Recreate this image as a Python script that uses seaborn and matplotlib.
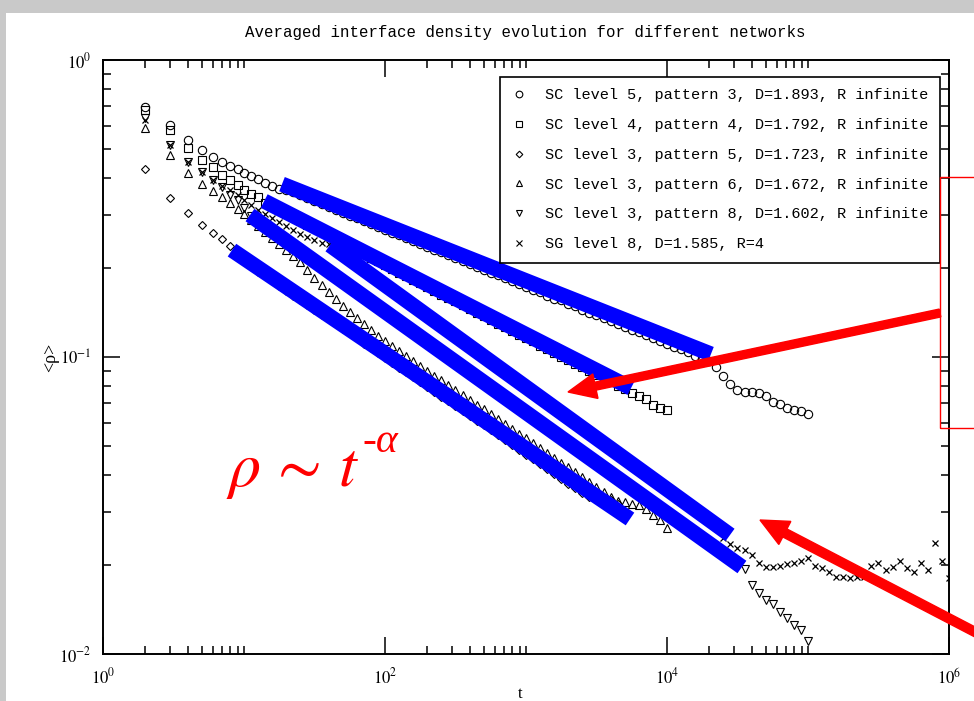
import matplotlib
matplotlib.use("Agg")
import matplotlib.pyplot as plt
import seaborn as sns
from matplotlib.lines import Line2D
from matplotlib.patches import Rectangle, FancyArrow
from matplotlib.transforms import IdentityTransform
from matplotlib.ticker import FixedLocator, FixedFormatter, NullFormatter

# ---------------- data ----------------
t_grid = [2, 3, 4, 5, 6, 7, 8, 9,
          10, 11.2, 12.6, 14.1, 15.8, 17.8, 20, 22.4, 25.1, 28.2, 31.6, 35.5, 39.8, 44.7, 50.1, 56.2, 63.1, 70.8, 79.4, 89.1,
          100, 112, 126, 141, 158, 178, 200, 224, 251, 282, 316, 355, 398, 447, 501, 562, 631, 708, 794, 891,
          1000, 1122, 1259, 1413, 1585, 1778, 1995, 2239, 2512, 2818, 3162, 3548, 3981, 4467, 5012, 5623, 6310, 7079, 7943, 8913,
          10000, 11220, 12590, 14130, 15850, 17780, 19950, 22390, 25120, 28180, 31620, 35480, 39810, 44670, 50120, 56230, 63100, 70790, 79430, 89130,
          100000, 112200, 125900, 141300, 158500, 177800, 199500, 223900, 251200, 281800, 316200, 354800, 398100, 446700, 501200, 562300, 631000, 707900, 794300, 891300,
          1000000]

rho_sc5_p3 = [0.696, 0.605, 0.539, 0.499, 0.471, 0.452, 0.439, 0.429,
              0.417, 0.406, 0.396, 0.386, 0.377, 0.368,
              0.365, 0.358, 0.350, 0.342, 0.334, 0.328, 0.320, 0.313, 0.306, 0.299,
              0.293, 0.287, 0.280, 0.274, 0.268, 0.262, 0.257, 0.251, 0.245, 0.240,
              0.235, 0.229, 0.225, 0.220, 0.215, 0.210, 0.206, 0.201, 0.196, 0.192,
              0.189, 0.184, 0.180, 0.176, 0.172, 0.168, 0.165, 0.161, 0.157, 0.155,
              0.151, 0.148, 0.144, 0.141, 0.138, 0.135, 0.132, 0.129, 0.126, 0.123,
              0.121, 0.119, 0.116, 0.113, 0.111, 0.108, 0.106, 0.104, 0.101, 0.0991,
              0.0970,
              0.0928, 0.0866, 0.0809, 0.0772, 0.0763, 0.0760, 0.0754, 0.0741, 0.0704, 0.0696,
              0.0676, 0.0665, 0.0657, 0.0643]

rho_sc4_p4 = [0.680, 0.581, 0.506, 0.461, 0.437, 0.411, 0.395, 0.378,
              0.365, 0.355, 0.346,
              0.330, 0.321, 0.312, 0.303, 0.295, 0.287, 0.279, 0.271, 0.263, 0.256,
              0.249, 0.242, 0.235, 0.228, 0.222, 0.216, 0.210, 0.204, 0.198, 0.192,
              0.188, 0.182, 0.177, 0.172, 0.167, 0.162, 0.158, 0.154, 0.150, 0.145,
              0.141, 0.137, 0.133, 0.129, 0.126, 0.122, 0.119, 0.116, 0.113, 0.109,
              0.106, 0.103, 0.100, 0.0977, 0.0950, 0.0923, 0.0897, 0.0872, 0.0848, 0.0824,
              0.0801, 0.0779, 0.0757,
              0.0741, 0.0720, 0.0691, 0.0673, 0.0662]

rho_sc3_p5 = [0.428, 0.343, 0.305, 0.278, 0.261, 0.250, 0.236, 0.225,
              0.214,
              0.202, 0.194, 0.188, 0.181, 0.174, 0.167, 0.161, 0.156, 0.150, 0.144,
              0.139, 0.134, 0.129, 0.124, 0.120, 0.116, 0.111, 0.107, 0.103, 0.0991,
              0.0957, 0.0920, 0.0887, 0.0854, 0.0823, 0.0792, 0.0764, 0.0736, 0.0709, 0.0682,
              0.0657, 0.0633, 0.0610, 0.0588, 0.0566, 0.0545, 0.0525, 0.0506, 0.0487, 0.0469,
              0.0452, 0.0435, 0.0420, 0.0404, 0.0389, 0.0375, 0.0362, 0.0348,
              0.0339, 0.0337, 0.0331, 0.0330, 0.0321]

rho_sc3_p6 = [0.591, 0.479, 0.417, 0.383, 0.363, 0.346, 0.330, 0.315,
              0.303, 0.290, 0.276, 0.263, 0.252, 0.240, 0.229, 0.219, 0.209,
              0.196, 0.185, 0.175, 0.166, 0.157, 0.149, 0.142, 0.135, 0.129, 0.123,
              0.118, 0.113, 0.109, 0.105, 0.101, 0.0969,
              0.0932, 0.0898, 0.0865, 0.0834, 0.0803, 0.0774, 0.0746, 0.0717, 0.0691, 0.0666,
              0.0642, 0.0618, 0.0595, 0.0573, 0.0552, 0.0532, 0.0512, 0.0494, 0.0475, 0.0458,
              0.0441, 0.0425, 0.0409, 0.0395, 0.0380, 0.0365, 0.0352, 0.0339, 0.0327,
              0.0324, 0.0321, 0.0317, 0.0307, 0.0293, 0.0282, 0.0266]

rho_sc3_p8 = [0.640, 0.518, 0.454, 0.421, 0.395, 0.374, 0.351, 0.338,
              0.317,
              0.299, 0.288, 0.277, 0.266, 0.256, 0.246, 0.237, 0.228, 0.219, 0.210,
              0.202, 0.195, 0.187, 0.180, 0.173, 0.166, 0.160, 0.154, 0.148, 0.142,
              0.137, 0.132, 0.127, 0.122, 0.117, 0.113, 0.108, 0.104, 0.100, 0.0963,
              0.0926, 0.0891, 0.0856, 0.0824, 0.0792, 0.0762, 0.0732, 0.0704, 0.0677, 0.0651,
              0.0626, 0.0602, 0.0579, 0.0557, 0.0536, 0.0515, 0.0495, 0.0476, 0.0458, 0.0441,
              0.0424, 0.0407, 0.0392, 0.0377, 0.0362, 0.0348, 0.0335, 0.0322, 0.0310, 0.0298,
              0.0287, 0.0276, 0.0265, 0.0255, 0.0245, 0.0236, 0.0227, 0.0218, 0.0210, 0.0202,
              0.0194,
              0.0171, 0.0160, 0.0152, 0.0147, 0.0138, 0.0132, 0.0125, 0.0120, 0.0111]

rho_sg8 = [0.628, 0.517, 0.454, 0.420, 0.394, 0.377, 0.365, 0.351,
           0.338, 0.325, 0.313, 0.303, 0.294, 0.285, 0.276, 0.268, 0.259, 0.254,
           0.248, 0.242, 0.240,
           0.231, 0.222, 0.213, 0.205, 0.197, 0.189, 0.182, 0.175, 0.168, 0.162,
           0.155, 0.149, 0.144, 0.138, 0.133, 0.127, 0.122, 0.118, 0.113, 0.109,
           0.105, 0.1005, 0.0966, 0.0928, 0.0892, 0.0858, 0.0824, 0.0792, 0.0762, 0.0732,
           0.0704, 0.0676, 0.0650, 0.0625, 0.0601, 0.0577, 0.0555, 0.0533, 0.0513, 0.0493,
           0.0474, 0.0455, 0.0437, 0.0420, 0.0404, 0.0388, 0.0373, 0.0359, 0.0345, 0.0332,
           0.0319, 0.0306, 0.0294, 0.0283, 0.0272,
           0.0245, 0.0235, 0.0227, 0.0224, 0.0215, 0.0203, 0.0197, 0.0196, 0.0198, 0.0201,
           0.0203, 0.0206, 0.0211, 0.0198, 0.0195, 0.0189, 0.0181, 0.0181, 0.0180, 0.0181,
           0.0181, 0.0198, 0.0203, 0.0192, 0.0197, 0.0206, 0.0195, 0.0189, 0.0203, 0.0192,
           0.0237, 0.0206, 0.0180]

series_labels = ["SC level 5, pattern 3, D=1.893, R infinite",
                 "SC level 4, pattern 4, D=1.792, R infinite",
                 "SC level 3, pattern 5, D=1.723, R infinite",
                 "SC level 3, pattern 6, D=1.672, R infinite",
                 "SC level 3, pattern 8, D=1.602, R infinite",
                 "SG level 8, D=1.585, R=4"]

# power-law guide segments (start / end points)
guide_t0 = [18.6, 13.9, 40.7, 11.03, 8.22]
guide_t1 = [20500, 5560, 28000, 34000, 5465]
guide_r0 = [0.382, 0.335, 0.238, 0.3006, 0.229]
guide_r1 = [0.1023, 0.0786, 0.02517, 0.01963, 0.02848]

x_major = [1, 1e2, 1e4, 1e6]
x_major_labels = [r"$10^{0}$", r"$10^{2}$", r"$10^{4}$", r"$10^{6}$"]
x_minor = [2, 3, 4, 5, 6, 7, 8, 9, 10,
           200, 300, 400, 500, 600, 700, 800, 900, 1000,
           2e4, 3e4, 4e4, 5e4, 6e4, 7e4, 8e4, 9e4, 1e5]
y_major = [0.01, 0.1, 1]
y_major_labels = [r"$10^{-2}$", r"$10^{-1}$", r"$10^{0}$"]
y_minor = [0.02, 0.03, 0.04, 0.05, 0.06, 0.07, 0.08, 0.09,
           0.2, 0.3, 0.4, 0.5, 0.6, 0.7, 0.8, 0.9]

title_text = "Averaged interface density evolution for different networks"
law_main = r"$\rho\,\sim\,t$"
law_exp = "-\u03b1"

# ---------------- figure ----------------
plt.rcParams["mathtext.fontset"] = "stix"
plt.rcParams["font.family"] = ["Liberation Serif", "DejaVu Sans"]

W, H = 974, 701
fig = plt.figure(figsize=(W / 100, H / 100), dpi=100)
fig.patch.set_facecolor("#c9c9c9")
fig.add_artist(Rectangle((6 / W, 0), 1, 1 - 13 / H, transform=fig.transFigure,
                         facecolor="white", edgecolor="none", zorder=-1))

ax = fig.add_axes([103 / W, 47 / H, 846 / W, 594 / H])
ax.set_facecolor("white")
ax.set_xscale("log")
ax.set_yscale("log")

series = [rho_sc5_p3, rho_sc4_p4, rho_sc3_p5, rho_sc3_p6, rho_sc3_p8, rho_sg8]
markers = ["o", "s", "D", "^", "v", "x"]
msizes = [6.0, 5.6, 4.2, 6.2, 6.2, 5.0]

for rho, m, ms in zip(series, markers, msizes):
    t = t_grid[:len(rho)]
    if m == "x":
        sns.lineplot(x=t, y=rho, ax=ax, marker=m, linestyle="", color="black",
                     ms=ms, mew=0.9, mec="black", zorder=2)
    else:
        sns.lineplot(x=t, y=rho, ax=ax, marker=m, linestyle="", color="black",
                     ms=ms, mew=0.8, mec="black", mfc="none", zorder=2)

for a0, a1, b0, b1 in zip(guide_t0, guide_t1, guide_r0, guide_r1):
    sns.lineplot(x=[a0, a1], y=[b0, b1], ax=ax, color="#0000ff", lw=11,
                 solid_capstyle="butt", zorder=3)

ax.set_xlim(1, 1e6)
ax.set_ylim(0.01, 1)

ax.xaxis.set_major_locator(FixedLocator(x_major))
ax.xaxis.set_major_formatter(FixedFormatter(x_major_labels))
ax.xaxis.set_minor_locator(FixedLocator(x_minor))
ax.xaxis.set_minor_formatter(NullFormatter())
ax.yaxis.set_major_locator(FixedLocator(y_major))
ax.yaxis.set_major_formatter(FixedFormatter(y_major_labels))
ax.yaxis.set_minor_locator(FixedLocator(y_minor))
ax.yaxis.set_minor_formatter(NullFormatter())

ax.tick_params(which="both", direction="in", top=True, right=True, width=1.1, colors="black")
ax.tick_params(which="major", length=12, labelsize=12)
ax.tick_params(which="minor", length=6)
ax.tick_params(axis="x", which="major", pad=10)
ax.tick_params(axis="y", which="major", pad=8)
for sp in ax.spines.values():
    sp.set_linewidth(1.4)
    sp.set_color("black")

ax.set_ylabel("<\u03c1>", fontsize=13)
ax.yaxis.set_label_coords(-0.052, 0.5)
ax.set_xlabel("t", fontsize=12)
ax.xaxis.set_label_coords(0.493, -0.054)

handles = [Line2D([], [], marker=m, linestyle="none", color="black", mfc="none" if m != "x" else "black",
                  mec="black", mew=0.8, ms=ms * 0.8) for m, ms in zip(markers, msizes)]
leg = ax.legend(handles, series_labels, loc="upper right",
                bbox_to_anchor=(940 / W, 1 - 77 / H), bbox_transform=fig.transFigure,
                prop={"family": "Liberation Mono", "size": 11},
                frameon=True, fancybox=False, edgecolor="black", framealpha=1,
                borderpad=0.75, labelspacing=1.03, handlelength=1.0, handletextpad=1.2,
                borderaxespad=0)
leg.get_frame().set_linewidth(1.2)
leg.set_zorder(6)

fig.text(525 / W, 1 - 32 / H, title_text, ha="center", va="center",
         family="Liberation Mono", fontsize=11.3, color="black")

# red annotations
fig.text(226 / W, 1 - 486 / H, law_main, color="red", fontsize=46,
         ha="left", va="baseline", zorder=7)
fig.text(362 / W, 1 - 452 / H, law_exp, color="red", fontsize=30, fontstyle="italic",
         family="Liberation Serif", ha="left", va="baseline", zorder=7)
fig.add_artist(Rectangle((940, H - 428), 80, 428 - 177, transform=IdentityTransform(),
                         fill=False, edgecolor="red", linewidth=1.0, zorder=7))
fig.add_artist(FancyArrow(940, H - 313, -372, -79, width=8, head_width=25, head_length=28,
                          length_includes_head=True, color="red", transform=IdentityTransform(),
                          zorder=8))
fig.add_artist(FancyArrow(1000, H - 645, -240, 125, width=9, head_width=26, head_length=28,
                          length_includes_head=True, color="red", transform=IdentityTransform(),
                          zorder=8))

fig.savefig("out.png", dpi=100, facecolor=fig.get_facecolor())
